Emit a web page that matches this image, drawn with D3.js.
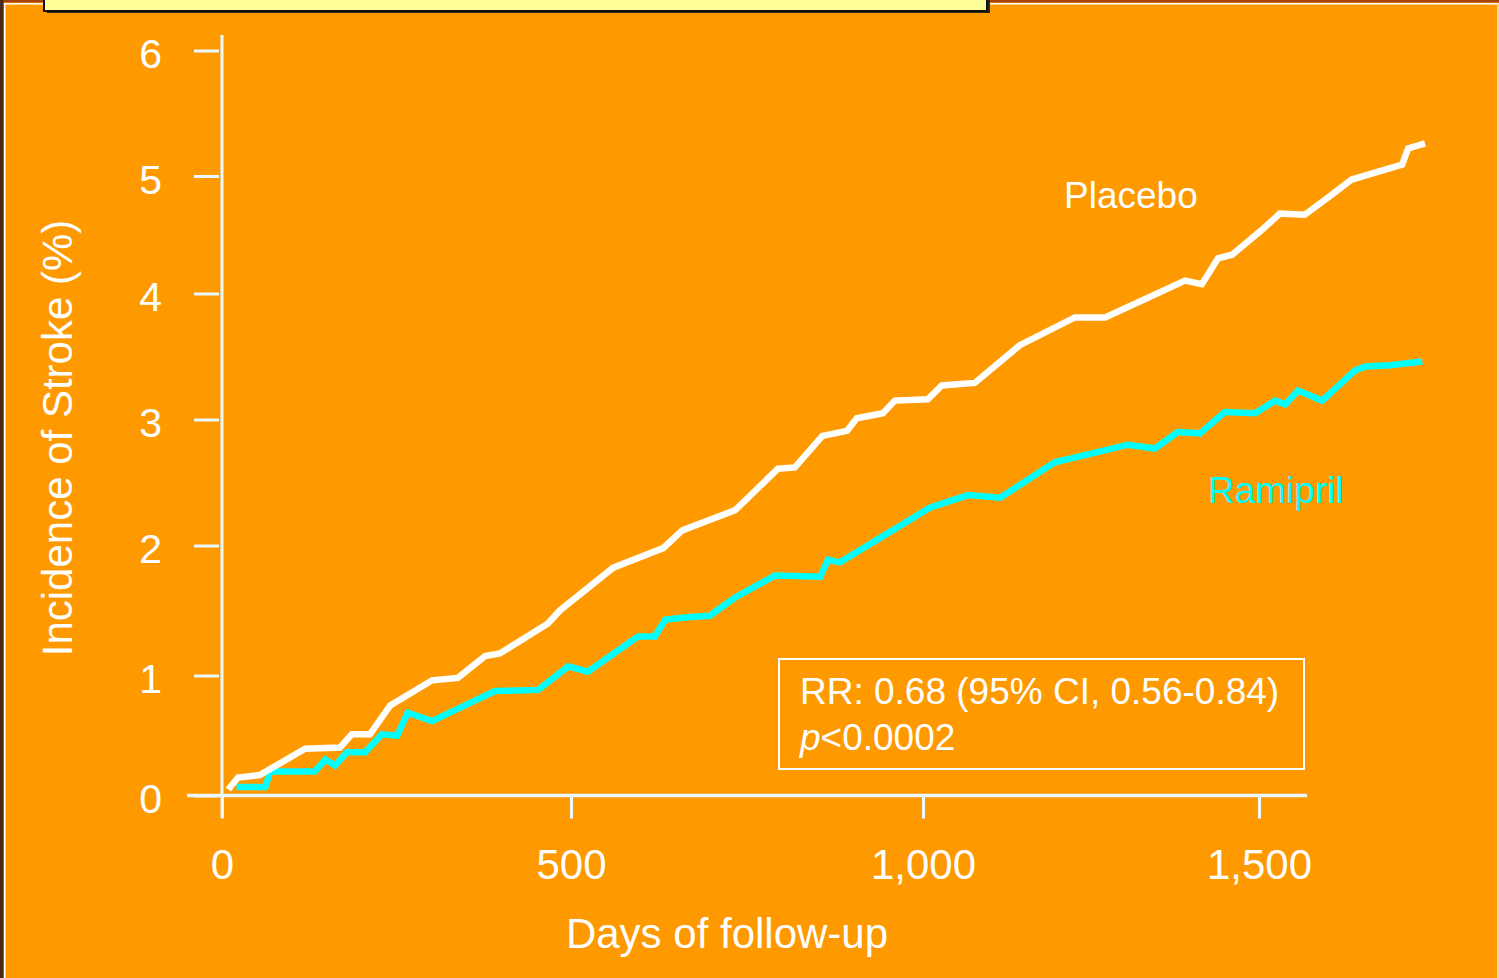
<!DOCTYPE html>
<html>
<head>
<meta charset="utf-8">
<script src="https://cdn.jsdelivr.net/npm/d3@7"></script>
<style>
  html, body { margin: 0; padding: 0; background: #FF9900; overflow: hidden; }
  svg { display: block; }
  text { font-family: "Liberation Sans", Arial, sans-serif; fill: #FFFFFF; }
</style>
</head>
<body>
<svg id="chart" width="1499" height="978"></svg>
<script>
// ---- Data ----
const placeboDays = [9, 23, 54, 119, 169, 186, 212, 241, 301, 338, 377, 398, 467, 484, 560, 631, 658, 733, 794, 818, 857, 892, 906, 943, 960, 1007, 1028, 1077, 1144, 1226, 1271, 1390, 1415, 1439, 1460, 1504, 1531, 1568, 1606, 1638, 1713, 1722, 1747];
const placeboValues = [0.05, 0.15, 0.17, 0.39, 0.40, 0.51, 0.51, 0.75, 0.96, 0.98, 1.15, 1.17, 1.40, 1.50, 1.83, 1.98, 2.12, 2.28, 2.61, 2.62, 2.87, 2.91, 3.01, 3.05, 3.15, 3.16, 3.27, 3.29, 3.59, 3.81, 3.81, 4.11, 4.08, 4.30, 4.33, 4.54, 4.68, 4.67, 4.83, 4.97, 5.09, 5.22, 5.26];
const ramiprilDays = [21, 62, 69, 133, 148, 162, 179, 205, 229, 251, 266, 301, 391, 453, 496, 524, 595, 619, 634, 669, 697, 733, 790, 854, 865, 882, 1010, 1067, 1115, 1196, 1305, 1345, 1379, 1412, 1449, 1494, 1524, 1539, 1558, 1594, 1643, 1658, 1695, 1743];
const ramiprilValues = [0.07, 0.07, 0.20, 0.20, 0.30, 0.25, 0.36, 0.36, 0.51, 0.50, 0.69, 0.62, 0.87, 0.88, 1.07, 1.03, 1.30, 1.30, 1.43, 1.45, 1.46, 1.60, 1.77, 1.76, 1.89, 1.87, 2.30, 2.40, 2.38, 2.66, 2.80, 2.77, 2.90, 2.89, 3.06, 3.05, 3.15, 3.12, 3.23, 3.15, 3.39, 3.42, 3.43, 3.46];
const xTicks = [0, 500, 1000, 1500];
const xTickLabels = ["0", "500", "1,000", "1,500"];
const yTicks = [0, 1, 2, 3, 4, 5, 6];
const xTitle = "Days of follow-up";
const yTitle = "Incidence of Stroke (%)";
const seriesNames = ["Placebo", "Ramipril"];
const annotationLine1 = "RR: 0.68 (95% CI, 0.56-0.84)";
const annotationP = "p";
const annotationRest = "<0.0002";

// ---- Layout ----
const svg = d3.select("#chart");
const W = 1499, H = 978;
const axisColor = "#EAF8FF";

// background
svg.append("rect").attr("x", 0).attr("y", 0).attr("width", W).attr("height", H).attr("fill", "#FF9900");
// frame decorations
svg.append("rect").attr("x", 0).attr("y", 0).attr("width", W).attr("height", 2.5).attr("fill", "#A8420A");
svg.append("rect").attr("x", 0).attr("y", 0).attr("width", 3.5).attr("height", H).attr("fill", "#4A2A12");
svg.append("rect").attr("x", 4).attr("y", 3).attr("width", W - 4).attr("height", 1.5).attr("fill", "#FFFFFF");
svg.append("rect").attr("x", 4).attr("y", 3).attr("width", 1.5).attr("height", H - 3).attr("fill", "#FFFFFF");
svg.append("rect").attr("x", W - 2).attr("y", 3).attr("width", 2).attr("height", H - 3).attr("fill", "#FFD9A0");
// yellow title box (top, mostly cut off)
svg.append("rect").attr("x", 47).attr("y", -10).attr("width", 943).attr("height", 23).attr("fill", "#2A2A10");
svg.append("rect").attr("x", 44).attr("y", -10).attr("width", 943).attr("height", 21)
  .attr("fill", "#FFFF99").attr("stroke", "#111111").attr("stroke-width", 2);

// ---- Scales (the original drawing's ticks are slightly unevenly spaced) ----
const x = d3.scaleLinear().domain(xTicks).range([222, 571, 923, 1259]);
const y = d3.scaleLinear().domain(yTicks).range([795.5, 675.5, 545.5, 419.5, 293.5, 176, 50.5]);

// ---- Axes ----
svg.append("line").attr("x1", x(0)).attr("x2", x(0)).attr("y1", 35).attr("y2", 818)
  .attr("stroke", axisColor).attr("stroke-width", 3);
svg.append("line").attr("x1", 187).attr("x2", 1307).attr("y1", y(0)).attr("y2", y(0))
  .attr("stroke", axisColor).attr("stroke-width", 3.5);

const yAxis = d3.axisLeft(y).tickValues(yTicks).tickSize(25).tickPadding(32).tickFormat(d3.format("d"));
const gy = svg.append("g").attr("transform", `translate(${x(0) - 3},0)`).call(yAxis);
gy.select(".domain").remove();
gy.selectAll(".tick line").attr("stroke", axisColor).attr("stroke-width", 3);
gy.selectAll(".tick text").attr("font-size", 41).attr("fill", "#FFFFFF").attr("dy", "0.42em")
  .style("font-family", "'Liberation Sans', Arial, sans-serif");

const xAxis = d3.axisBottom(x).tickValues(xTicks).tickSize(23).tickPadding(32)
  .tickFormat((d, i) => xTickLabels[i]);
const gx = svg.append("g").attr("transform", `translate(0,${y(0)})`).call(xAxis);
gx.select(".domain").remove();
gx.selectAll(".tick line").attr("stroke", axisColor).attr("stroke-width", 3);
gx.selectAll(".tick text").attr("font-size", 42).attr("fill", "#FFFFFF").attr("dy", "0.68em")
  .style("font-family", "'Liberation Sans', Arial, sans-serif");

// axis titles
svg.append("text").attr("x", 727).attr("y", 948).attr("text-anchor", "middle")
  .attr("font-size", 42).text(xTitle);
svg.append("text").attr("transform", "translate(72,438) rotate(-90)").attr("text-anchor", "middle")
  .attr("font-size", 42).text(yTitle);

// ---- Lines ----
const line = d3.line().x(d => x(d[0])).y(d => y(d[1]));
const placebo = placeboDays.map((d, i) => [d, placeboValues[i]]);
const ramipril = ramiprilDays.map((d, i) => [d, ramiprilValues[i]]);

svg.append("path").datum(ramipril).attr("d", line).attr("fill", "none")
  .attr("stroke", "#00FFFF").attr("stroke-width", 6.5).attr("stroke-linejoin", "miter");
svg.append("path").datum(placebo).attr("d", line).attr("fill", "none")
  .attr("stroke", "#FFFFFF").attr("stroke-width", 6.5).attr("stroke-linejoin", "miter");

// series labels
svg.append("text").attr("x", 1064).attr("y", 208).attr("font-size", 37).attr("fill", "#FFFFFF").text(seriesNames[0]);
svg.append("text").attr("x", 1208).attr("y", 503).attr("font-size", 37).style("fill", "#00FFFF").text(seriesNames[1]);

// ---- Annotation box ----
svg.append("rect").attr("x", 779).attr("y", 659).attr("width", 525).attr("height", 110)
  .attr("fill", "none").attr("stroke", "#FFFFFF").attr("stroke-width", 2);
svg.append("text").attr("x", 800).attr("y", 704).attr("font-size", 37).text(annotationLine1);
const t2 = svg.append("text").attr("x", 800).attr("y", 750).attr("font-size", 37);
t2.append("tspan").attr("font-style", "italic").text(annotationP);
t2.append("tspan").text(annotationRest);
</script>
</body>
</html>
